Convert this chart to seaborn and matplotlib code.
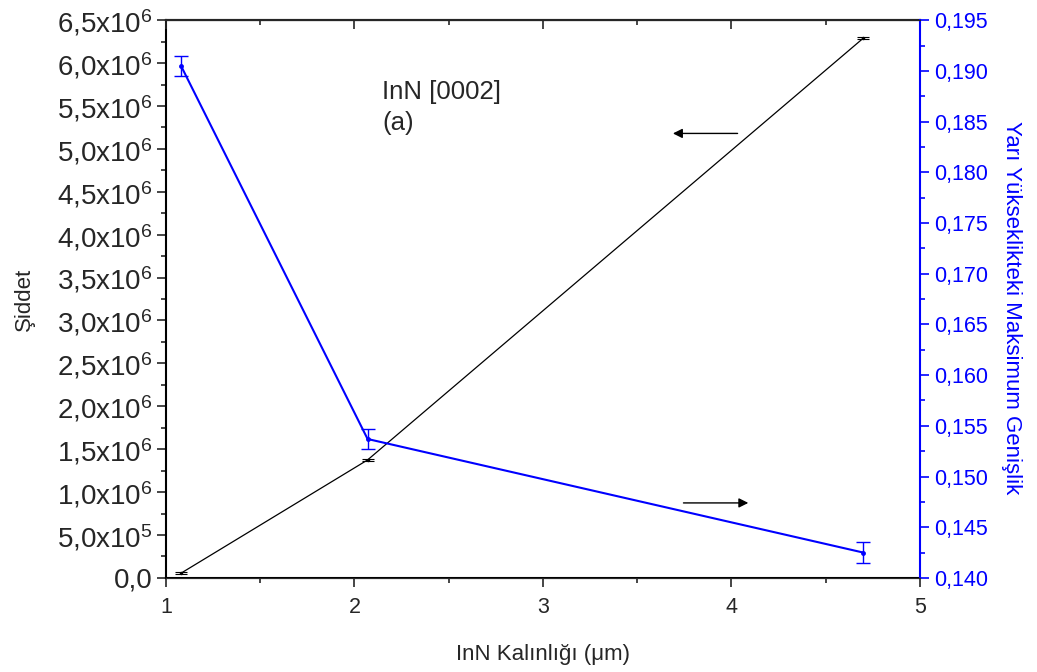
import numpy as np
import pandas as pd
import matplotlib
matplotlib.use("Agg")
import matplotlib.pyplot as plt
from matplotlib.ticker import FuncFormatter, MultipleLocator
import seaborn as sns

# Measurements
thickness = [1.08, 2.07, 4.70]                 # InN thickness (µm)
intensity = [5.5e4, 1.375e6, 6.29e6]           # peak intensity
intensity_err = [1.0e4, 1.0e4, 1.0e4]
fwhm = [0.1905, 0.1537, 0.1425]                # FWHM
fwhm_err = [0.0010, 0.0010, 0.0010]

sns.set_style("ticks")
plt.rcParams["font.family"] = ["Liberation Sans", "DejaVu Sans"]
plt.rcParams["mathtext.fontset"] = "custom"
plt.rcParams["mathtext.rm"] = "Liberation Sans"
plt.rcParams["mathtext.it"] = "Liberation Sans:italic"
plt.rcParams["mathtext.bf"] = "Liberation Sans:bold"

df = pd.DataFrame({"t": thickness, "I": intensity, "w": fwhm})

fig = plt.figure(figsize=(10.37, 6.72), dpi=100)
ax = fig.add_axes([0.160, 0.140, 0.727, 0.830])
ax2 = ax.twinx()

# Intensity (left axis)
sns.lineplot(data=df, x="t", y="I", ax=ax, color="black", linewidth=0.9,
             marker="o", markersize=2.5, markeredgewidth=0)
ax.errorbar(thickness, intensity, yerr=intensity_err, fmt="none",
            ecolor="black", elinewidth=0.8, capsize=4.5, capthick=0.8)

# FWHM (right axis)
sns.lineplot(data=df, x="t", y="w", ax=ax2, color="#0000ff", linewidth=1.5,
             marker="o", markersize=3.5, markeredgewidth=0)
ax2.errorbar(thickness, fwhm, yerr=fwhm_err, fmt="none",
             ecolor="#0000ff", elinewidth=1.0, capsize=5, capthick=1.0)

ax.set_xlim(1, 5)
ax.set_ylim(0, 6.5e6)
ax2.set_ylim(0.140, 0.195)


def sci_comma(v, pos):
    if abs(v) < 1e-9:
        return "0,0"
    exp = int(np.floor(np.log10(abs(v)) + 1e-9))
    mant = v / 10 ** exp
    return f"{mant:.1f}".replace(".", ",") + "x10$^{" + str(exp) + "}$"


ax.yaxis.set_major_locator(MultipleLocator(5e5))
ax.yaxis.set_minor_locator(MultipleLocator(2.5e5))
ax.yaxis.set_major_formatter(FuncFormatter(sci_comma))
ax.xaxis.set_major_locator(MultipleLocator(1))
ax.xaxis.set_minor_locator(MultipleLocator(0.5))
ax.xaxis.set_major_formatter(FuncFormatter(lambda v, p: f"{v:.0f}"))

ax2.yaxis.set_major_locator(MultipleLocator(0.005))
ax2.yaxis.set_minor_locator(MultipleLocator(0.0025))
ax2.yaxis.set_major_formatter(FuncFormatter(lambda v, p: f"{v:.3f}".replace(".", ",")))

ax.tick_params(axis="y", which="major", direction="out", length=6.5, width=1.2,
               labelsize=20, pad=3)
ax.tick_params(axis="y", which="minor", direction="out", length=3.5, width=1.2)
ax.tick_params(axis="x", which="major", direction="out", length=6.5, width=1.2,
               labelsize=15.5, pad=7)
ax.tick_params(axis="x", which="minor", direction="out", length=3.5, width=1.2)

ax2.tick_params(axis="y", which="major", direction="out", length=6.5, width=1.2,
                labelsize=15.5, colors="#0000ff", pad=4)
ax2.tick_params(axis="y", which="minor", direction="out", length=3.5, width=1.2,
                colors="#0000ff")

# Top axis: inward ticks, no labels
top = ax2.secondary_xaxis("top")
top.xaxis.set_major_locator(MultipleLocator(1))
top.xaxis.set_minor_locator(MultipleLocator(0.5))
top.tick_params(axis="x", which="major", direction="in", length=6.5, width=1.2,
                labeltop=False)
top.tick_params(axis="x", which="minor", direction="in", length=3.5, width=1.2)
top.spines["top"].set_linewidth(1.5)

for s in ["left", "bottom", "top"]:
    ax.spines[s].set_linewidth(1.5)
    ax.spines[s].set_color("black")
ax2.spines["right"].set_color("#0000ff")
ax2.spines["right"].set_linewidth(1.5)
ax2.spines["left"].set_visible(False)
ax.spines["right"].set_visible(False)

ax.set_xlabel("InN Kalınlığı (μm)", fontsize=16, labelpad=19)
ax.set_ylabel("Şiddet", fontsize=16, labelpad=16)
ax2.set_ylabel("Yarı Yükseklikteki Maksimum Genişlik", fontsize=16,
               color="#0000ff", rotation=-90, labelpad=28)
ax2.yaxis.set_label_coords(1.135, 0.485)

ax.text(2.147, 5.66e6, "InN [0002]", fontsize=18.5, va="center", ha="left")
ax.text(2.147, 5.30e6, "(a)", fontsize=18.5, va="center", ha="left")

# Arrows pointing to each series' axis
ax.annotate("", xy=(3.69, 5.18e6), xytext=(4.033, 5.18e6),
            arrowprops=dict(arrowstyle="-|>", color="black", lw=1.0,
                            mutation_scale=14, shrinkA=0, shrinkB=0))
ax.annotate("", xy=(4.09, 0.874e6), xytext=(3.746, 0.874e6),
            arrowprops=dict(arrowstyle="-|>", color="black", lw=1.0,
                            mutation_scale=14, shrinkA=0, shrinkB=0))

fig.savefig("out.png", dpi=100)
